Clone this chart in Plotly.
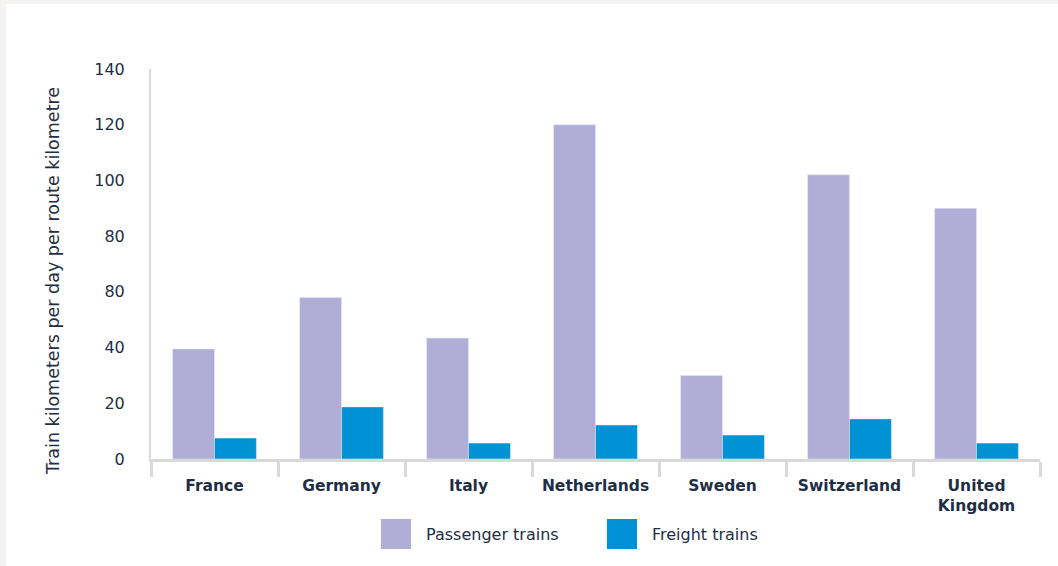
import plotly.graph_objects as go

categories = ["France", "Germany", "Italy", "Netherlands", "Sweden", "Switzerland", "United<br>Kingdom"]
passenger = [39.5, 58, 43.4, 120, 30, 102, 90]
freight = [7.5, 18.7, 5.7, 12.2, 8.6, 14.4, 5.7]
series_names = ["Passenger trains", "Freight trains"]
y_title = "Train kilometers per day per route kilometre"
y_tickvals = [0, 20, 40, 60, 80, 100, 120, 140]
y_ticktext = ["0", "20", "40", "80", "80", "100", "120", "140"]
colors = ["#b0aed7", "#0092d5"]

W, H = 1058, 566
ML, MR, MT, MB = 151, 18, 69, 107
PW, PH = W - ML - MR, H - MT - MB

def px_x(x):
    return (x - ML) / PW

def px_y(y):
    return (H - MB - y) / PH

text_col = "#1e2e44"
fnt = "'DejaVu Sans', sans-serif"

fig = go.Figure()
fig.add_trace(go.Bar(x=categories, y=passenger, name=series_names[0], marker_color=colors[0], showlegend=False))
fig.add_trace(go.Bar(x=categories, y=freight, name=series_names[1], marker_color=colors[1], showlegend=False))

shapes = [
    dict(type="rect", xref="paper", yref="paper", x0=px_x(6), x1=px_x(W + 5), y0=px_y(H + 5), y1=px_y(4),
         fillcolor="white", line=dict(width=0), layer="below"),
]
annotations = [
    dict(text=y_title, xref="paper", yref="paper", x=px_x(53), y=px_y(281), textangle=-90,
         xanchor="center", yanchor="middle", showarrow=False,
         font=dict(size=17.5, color=text_col, family=fnt)),
]
# manual legend
leg = [(381, 424), (607, 650)]
for (sx, tx), nm, c in zip(leg, series_names, colors):
    shapes.append(dict(type="rect", xref="paper", yref="paper", x0=px_x(sx), x1=px_x(sx + 30),
                       y0=px_y(549), y1=px_y(519), fillcolor=c, line=dict(width=0)))
    annotations.append(dict(text=nm, xref="paper", yref="paper", x=px_x(tx), y=px_y(534),
                            xanchor="left", yanchor="middle", showarrow=False,
                            font=dict(size=16, color=text_col, family=fnt)))

fig.update_layout(
    width=W, height=H,
    margin=dict(l=ML, r=MR, t=MT, b=MB),
    paper_bgcolor="#f4f3f1",
    plot_bgcolor="white",
    barmode="group",
    bargap=0.34,
    bargroupgap=0,
    shapes=shapes,
    annotations=annotations,
    font=dict(family=fnt, color=text_col),
)
fig.update_xaxes(
    showline=True, linecolor="#d9d9d9", linewidth=3,
    ticks="outside", tickson="boundaries", ticklen=15, tickwidth=3, tickcolor="#d9d9d9",
    ticklabelstandoff=10,
    tickfont=dict(size=15.5, color=text_col, family=fnt, weight="bold"),
    showgrid=False,
)
fig.update_yaxes(
    range=[0, 140], tickvals=y_tickvals, ticktext=y_ticktext,
    showline=True, linecolor="#d9d9d9", linewidth=2,
    showgrid=False, zeroline=False, ticks="",
    ticklabelstandoff=21,
    tickfont=dict(size=16, color=text_col, family=fnt),
)
fig.write_html("out.html", config={"displayModeBar": False},
               post_script="document.body.style.margin='0';document.body.style.overflow='hidden';")
